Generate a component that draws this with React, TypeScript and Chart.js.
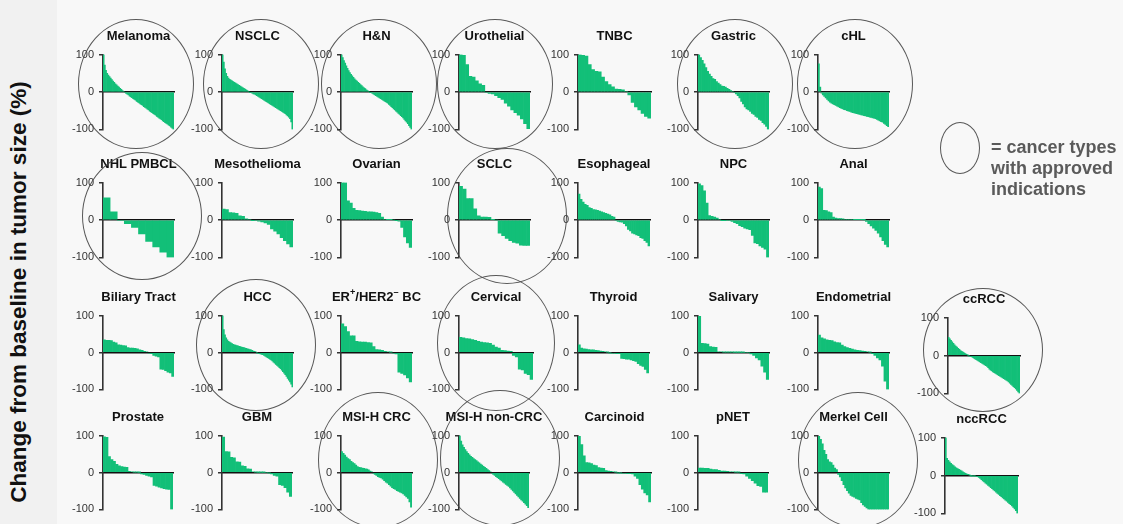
import React, { useEffect, useRef } from 'react';
import { Chart, registerables } from 'chart.js';

Chart.register(...registerables);

// ---------------- data ----------------
const Y_TICKS = [-100, 0, 100];

const melanoma = [100, 72, 58, 50, 45, 41, 37, 33, 29, 26, 22, 19, 16, 13, 10, 7, 4, 2,
  -2, -4, -6, -8, -11, -13, -15, -18, -20, -22, -25, -27, -29, -32, -34, -36, -39, -41,
  -43, -46, -48, -51, -53, -55, -58, -60, -62, -65, -67, -70, -72, -74, -77, -79, -82, -84,
  -86, -89, -91, -94, -97, -100];
const nsclc = [100, 80, 62, 50, 42, 37, 34, 32, 30, 28, 26, 24, 22, 20, 18, 16, 14, 12, 10, 8, 6, 4, 2,
  -1, -2, -3, -5, -6, -8, -10, -12, -14, -16, -18, -20, -22, -24, -26, -28, -30, -32,
  -34, -36, -38, -40, -42, -44, -46, -48, -50, -52, -54, -56, -58, -61, -64, -67, -71, -80, -100];
const hn = [100, 92, 84, 77, 70, 63, 57, 52, 47, 43, 39, 35, 32, 29, 26, 23, 20, 17, 14, 11, 9, 6, 4, 2,
  -1, -2, -4, -6, -8, -10, -12, -14, -16, -18, -20, -22, -24, -26, -28, -30, -33, -36,
  -39, -42, -45, -48, -51, -54, -57, -60, -63, -66, -69, -73, -77, -81, -85, -90, -95, -100];
const urothelial = [100, 98, 73, 42, 40, 30, 22, 18, -2, -4, -5, -10, -15, -20, -30, -38, -48, -55, -62, -72, -85, -98];
const tnbc = [100, 98, 96, 73, 60, 55, 54, 40, 28, 20, 14, 8, 7, 6, 2, -8, -28, -40, -48, -57, -65, -70];
const gastric = [100, 92, 85, 75, 65, 55, 48, 42, 36, 34, 28, 24, 20, 16, 15, 13, 10, 7, 4, 2,
  -2, -5, -10, -16, -25, -32, -40, -45, -48, -52, -57, -60, -65, -68, -73, -76, -82, -86, -92, -100];
const chl = [75, 13, -3, -8, -12, -16, -20, -24, -27, -30, -32, -34, -36, -38, -40, -42, -44, -45, -47, -48,
  -50, -51, -52, -54, -55, -56, -57, -58, -59, -60, -61, -62, -63, -64, -65, -66, -67, -68,
  -69, -70, -71, -73, -75, -77, -79, -81, -84, -87, -90, -93];

const nhlPmbcl = [59, 22, -2, -10, -20, -37, -57, -72, -86, -100];
const mesothelioma = [29, 28, 20, 19, 18, 11, 10, 3, 2, -1, -2, -3, -5, -8, -12, -24, -30, -37, -47, -55, -64, -72];
const ovarian = [100, 100, 51, 45, 31, 26, 25, 24, 23, 22, 22, 21, 20, 18, 8, 2, 1, 1, 0, -1, -3, -20, -45, -61, -73];
const sclc = [90, 83, 57, 57, 30, 11, 8, 8, 7, 1, 0, -35, -42, -49, -55, -60, -62, -67, -68, -68];
const esophageal = [69, 55, 48, 42, 39, 33, 31, 28, 27, 26, 24, 22, 20, 18, 16, 14, 10, 8,
  -2, -4, -5, -6, -10, -16, -25, -29, -35, -37, -40, -42, -47, -49, -55, -60, -69];
const npc = [97, 92, 78, 45, 12, 10, 8, 5, 2, -1, -1, -2, -2, -4, -7, -10, -15, -18, -22, -24, -26, -41, -61, -63, -69, -73, -78, -100];
const anal = [88, 84, 26, 25, 22, 20, 8, 5, 4, 4, 3, 2, 2, 2, 2, 1, 1, 1, 1, 0.5,
  -4, -10, -16, -22, -28, -35, -45, -55, -65, -72];

const biliary = [34, 33, 33, 32, 28, 26, 21, 20, 19, 18, 13, 12, 12, 11, 10, 7, 6, 3, 2,
  -2, -3, -8, -10, -12, -45, -46, -49, -53, -55, -65];
const hcc = [100, 62, 48, 40, 34, 30, 28, 26, 24, 22, 21, 20, 19, 18, 17, 16, 15, 14, 13, 12, 11, 10, 9, 8, 7, 6, 4, 3, 2,
  -1, -2, -3, -4, -5, -6, -8, -10, -12, -14, -16, -18, -20, -23, -26, -29, -32, -35,
  -38, -41, -44, -48, -52, -56, -60, -65, -70, -75, -80, -86, -93];
const erHer2 = [78, 70, 57, 45, 45, 30, 29, 28, 28, 27, 26, 16, 8, 7, 6, 3, 2, 1, -2, -4, -53, -57, -61, -69, -80];
const cervical = [41, 40, 38, 37, 35, 33, 30, 28, 27, 26, 25, 20, 15, 12, 6, 5, 4, 3, -8, -12, -45, -47, -57, -60, -73];
const thyroid = [21, 12, 10, 9, 8, 7, 7, 6, 5, 4, 3, 2, 1, -1, -2, -2, -3, -3, -16, -17, -18, -18, -20, -22, -24, -30, -35, -38, -46, -55];
const salivary = [98, 25, 24, 23, 16, 15, 14, 2, 2, 1, 1, 1, 1, 0.5, 0.5, 0.5, 0.5, 0, 0, -4, -8, -15, -20, -37, -53, -73];
const endometrial = [47, 40, 37, 34, 33, 32, 29, 27, 26, 20, 16, 13, 11, 9, 7, 6, 5, 4, 3, 2, 1, -3, -8, -15, -20, -37, -78, -100];
const ccrcc = [48, 44, 40, 36, 32, 28, 25, 22, 19, 16, 13, 11, 9, 7, 5, 3, 1,
  -1, -2, -3, -5, -7, -9, -11, -13, -15, -17, -19, -21, -23, -25, -27, -29, -32, -36,
  -39, -41, -43, -45, -47, -49, -51, -53, -55, -57, -59, -61, -63, -65, -67, -70, -73, -76,
  -79, -82, -85, -88, -92, -96, -100];

const prostate = [97, 95, 43, 35, 30, 22, 18, 16, 15, 14, 3, 2, 1, 1, 0.5, -4, -5, -8, -10, -12, -35, -37, -40, -42, -44, -45, -46, -100];
const gbm = [96, 57, 56, 41, 40, 29, 28, 18, 17, 10, 9, 2, 1, 0.5, 0.5, 0.5, 0, -1, -4, -8, -10, -33, -35, -41, -53, -65];
const msiCrc = [57, 52, 47, 42, 38, 35, 30, 27, 24, 20, 16, 14, 13, 12, 11, 10, 9, 7, 4, 2,
  -2, -5, -8, -11, -13, -15, -18, -22, -26, -29, -33, -37, -41, -44, -46, -49, -51, -53, -55, -58, -62, -66, -70, -80, -94];
const msiNonCrc = [100, 85, 75, 68, 62, 57, 52, 48, 44, 41, 38, 35, 32, 29, 26, 23, 20, 17, 14, 11, 8, 5, 2,
  -2, -5, -8, -11, -14, -17, -20, -23, -26, -29, -32, -35, -38, -42, -46, -50, -54, -58, -62, -66, -70, -74, -78, -82, -86, -90, -95];
const carcinoid = [98, 76, 45, 27, 26, 24, 20, 19, 13, 12, 11, 5, 4, 3, 2, 1, -1, -1, -2, -2, -3, -3, -4, -10, -16, -33, -45, -55, -61, -80];
const pnet = [12, 12, 11, 11, 9, 8, 8, 6, 4, 4, 3, 2, 2, 1, 1, -3, -4, -10, -16, -22, -29, -36, -38, -53, -53];
const merkel = [98, 90, 78, 60, 49, 35, 29, 27, 20, 12, 8,
  -5, -12, -22, -33, -42, -49, -56, -62, -65, -67, -70, -72, -74, -82, -88, -92, -96,
  -100, -100, -100, -100, -100, -100, -100, -100, -100, -100, -100, -100];
const nccrcc = [100, 45, 40, 36, 32, 29, 26, 23, 20, 18, 16, 14, 12, 10, 8, 6, 4, 3, 1,
  -0.5, -1, -1, -1, -2, -3, -5, -8, -11, -14, -17, -20, -23, -26, -29, -32, -35, -38,
  -41, -44, -47, -50, -53, -56, -59, -62, -65, -68, -71, -74, -77, -80, -84, -88, -93, -100];

const Y_TITLE = 'Change from baseline in tumor size (%)';
const LEGEND_LINES = ['= cancer types', 'with approved', 'indications'];

// ---------------- layout / style ----------------
const GREEN = '#12bf78';
const AXIS_COLOR = '#333333';
const FONT = '"Liberation Sans", Arial, Helvetica, sans-serif';
const AXIS_W = 32;
const PAD = 8;
const ROW_Y: [number, number][] = [[51, 133], [179, 261], [312, 393], [432, 513]];
const COL_X = [103, 222, 341, 459, 578, 698, 818];

type Panel = {
  title: React.ReactNode;
  data: number[];
  x: number;
  top: number;
  bottom: number;
  w: number;
};

const cell = (title: React.ReactNode, data: number[], col: number, row: number, w = 71): Panel => ({
  title, data, x: COL_X[col], top: ROW_Y[row][0], bottom: ROW_Y[row][1], w,
});

const supStyle: React.CSSProperties = { fontSize: '0.7em', verticalAlign: 'top', lineHeight: '10px', position: 'relative', top: -1 };

const PANELS: Panel[] = [
  cell('Melanoma', melanoma, 0, 0),
  cell('NSCLC', nsclc, 1, 0),
  cell('H&N', hn, 2, 0),
  cell('Urothelial', urothelial, 3, 0),
  cell('TNBC', tnbc, 4, 0, 73),
  cell('Gastric', gastric, 5, 0),
  cell('cHL', chl, 6, 0),
  cell('NHL PMBCL', nhlPmbcl, 0, 1),
  cell('Mesothelioma', mesothelioma, 1, 1),
  cell('Ovarian', ovarian, 2, 1),
  cell('SCLC', sclc, 3, 1),
  cell('Esophageal', esophageal, 4, 1, 72),
  cell('NPC', npc, 5, 1),
  cell('Anal', anal, 6, 1),
  cell('Biliary Tract', biliary, 0, 2),
  cell('HCC', hcc, 1, 2),
  cell(<span>ER<span style={supStyle}>+</span>/HER2<span style={supStyle}>–</span> BC</span>, erHer2, 2, 2),
  cell('Cervical', cervical, 3, 2, 74),
  cell('Thyroid', thyroid, 4, 2),
  cell('Salivary', salivary, 5, 2),
  cell('Endometrial', endometrial, 6, 2),
  { title: 'ccRCC', data: ccrcc, x: 948, top: 314, bottom: 397, w: 72 },
  cell('Prostate', prostate, 0, 3, 70),
  cell('GBM', gbm, 1, 3, 70),
  cell('MSI-H CRC', msiCrc, 2, 3),
  cell('MSI-H non-CRC', msiNonCrc, 3, 3, 70),
  cell('Carcinoid', carcinoid, 4, 3, 73),
  cell('pNET', pnet, 5, 3, 70),
  cell('Merkel Cell', merkel, 6, 3),
  { title: 'nccRCC', data: nccrcc, x: 945, top: 434, bottom: 517, w: 73 },
];

// ellipses marking approved indications: [cx, cy, rx, ry]
const CIRCLES: [number, number, number, number][] = [
  [136, 84, 58, 65], [261, 84, 58, 65], [379, 84, 58, 65], [495, 84, 58, 65],
  [735, 84, 58, 65], [855, 84, 58, 65],
  [142, 216, 60, 64], [507, 216, 60, 68],
  [256, 345, 60, 66], [496, 343, 59, 68], [983, 350, 60, 62],
  [378, 460, 60, 68], [500, 458, 60, 68], [858, 460, 60, 68],
];

function MiniChart({ p }: { p: Panel }) {
  const ref = useRef<HTMLCanvasElement>(null);
  const h = p.bottom - p.top + PAD * 2;
  const w = AXIS_W + p.w + 2;
  useEffect(() => {
    if (!ref.current) return;
    const chart = new Chart(ref.current, {
      type: 'bar',
      data: {
        labels: p.data.map((_, i) => String(i + 1)),
        datasets: [{
          data: p.data,
          backgroundColor: GREEN,
          borderWidth: 0,
          barPercentage: 1,
          categoryPercentage: 1,
        }],
      },
      options: {
        responsive: false,
        animation: false,
        events: [],
        layout: { padding: { top: PAD, bottom: PAD, left: 0, right: 2 } },
        plugins: { legend: { display: false }, tooltip: { enabled: false }, title: { display: false } },
        scales: {
          x: {
            type: 'category',
            position: { y: 0 } as any,
            grid: { display: false },
            ticks: { display: false },
            border: { display: true, color: '#111', width: 1.5 },
            z: 1,
          },
          y: {
            min: -100,
            max: 100,
            afterBuildTicks: (s: any) => { s.ticks = Y_TICKS.map((v) => ({ value: v })); },
            afterFit: (s: any) => { s.width = AXIS_W; },
            ticks: { font: { family: FONT, size: 11 }, color: '#333', padding: 5 },
            grid: { display: true, drawOnChartArea: false, drawTicks: true, tickLength: 4, color: AXIS_COLOR, lineWidth: 1.5 },
            border: { display: true, color: AXIS_COLOR, width: 1.6 },
            z: 1,
          },
        },
      },
    });
    return () => chart.destroy();
  }, [p]);
  return (
    <canvas
      ref={ref}
      width={w}
      height={h}
      style={{ position: 'absolute', left: p.x - AXIS_W, top: p.top - PAD, width: w, height: h }}
    />
  );
}

export default function App() {
  return (
    <div style={{ position: 'absolute', left: 0, top: 0, width: 1123, height: 524, background: '#f8f8f8', overflow: 'hidden', fontFamily: FONT }}>
      <div style={{ position: 'absolute', left: 0, top: 0, width: 57, height: 524, background: '#f1f1f1' }} />
      {PANELS.map((p, i) => (
        <React.Fragment key={i}>
          <MiniChart p={p} />
          <div style={{
            position: 'absolute', left: p.x + p.w / 2 - 100, width: 200, top: p.top - 24, height: 18,
            lineHeight: '18px', textAlign: 'center', fontWeight: 'bold', fontSize: 13, color: '#111', whiteSpace: 'nowrap',
          }}>{p.title}</div>
        </React.Fragment>
      ))}
      {CIRCLES.map(([cx, cy, rx, ry], i) => (
        <div key={'c' + i} style={{
          position: 'absolute', left: cx - rx, top: cy - ry, width: rx * 2, height: ry * 2, boxSizing: 'border-box',
          border: '1.5px solid rgba(70,70,70,0.9)', borderRadius: '50%', pointerEvents: 'none',
        }} />
      ))}
      <div style={{
        position: 'absolute', left: 940, top: 122, width: 40, height: 52, boxSizing: 'border-box',
        border: '1.5px solid rgba(70,70,70,0.9)', borderRadius: '50%',
      }} />
      <div style={{ position: 'absolute', left: 991, top: 137, fontWeight: 'bold', fontSize: 18, lineHeight: '21px', color: '#5a5a5a', whiteSpace: 'nowrap' }}>
        {LEGEND_LINES.map((l, i) => <div key={i}>{l}</div>)}
      </div>
      <div style={{
        position: 'absolute', left: 19, top: 292, width: 480, transform: 'translate(-50%, -50%) rotate(-90deg)',
        textAlign: 'center', fontWeight: 'bold', fontSize: 22.5, color: '#111', whiteSpace: 'nowrap',
      }}>{Y_TITLE}</div>
    </div>
  );
}
